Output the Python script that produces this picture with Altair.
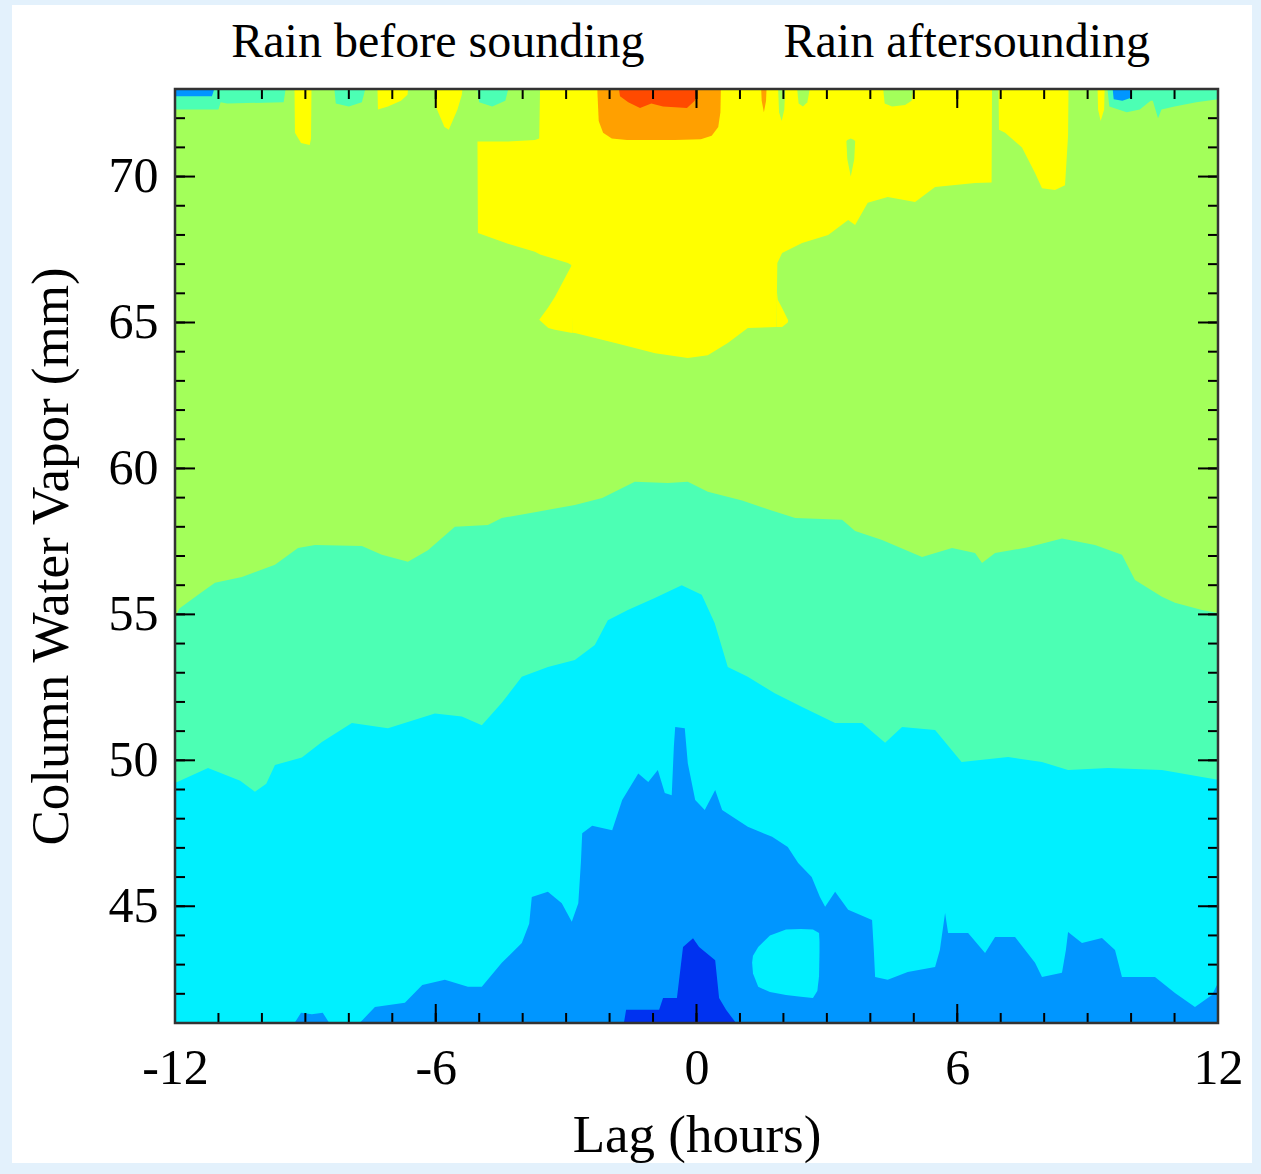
import altair as alt
import pandas as pd

# ---------------- colours of the contour levels ----------------
C_DKBLUE = "#0032f0"
C_BLUE = "#0096ff"
C_CYAN = "#00f0ff"
C_TEAL = "#4cffb4"
C_GREEN = "#a3ff5a"
C_YELLOW = "#ffff00"
C_ORANGE = "#ffa000"
C_RED = "#ff4a00"

# ---------------- axis ticks ----------------
X_LABELS = [-12, -6, 0, 6, 12]
Y_LABELS = [45, 50, 55, 60, 65, 70]
X_MINOR = list(range(-12, 13))
Y_MINOR = list(range(41, 74))

# ---------------- contour boundaries (lag h in hours, CWV in mm) ----------------
# whole field (green level)
GREEN_H = [-12, 12]
GREEN_LO = [41, 41]
GREEN_HI = [73, 73]

# teal level: from bottom up to green/teal boundary
TEAL_H = [-12, -11.9, -11.38, -11.08, -10.46, -9.7, -9.17, -8.78, -7.7, -7.24, -6.64, -6.18,
          -5.56, -4.8, -4.48, -3.72, -2.8, -2.17, -1.42, -0.66, -0.2, 0.26, 1.05, 1.64, 2.27,
          3.35, 3.65, 4.27, 5.19, 5.88, 6.41, 6.57, 6.87, 7.63, 8.41, 9.17, 9.79, 10.09, 10.71,
          11.01, 11.63, 12]
TEAL_TOP = [54.9, 55.2, 55.77, 56.08, 56.28, 56.7, 57.27, 57.38, 57.34, 57.04, 56.8, 57.2,
            58.0, 58.06, 58.3, 58.5, 58.75, 58.99, 59.54, 59.5, 59.54, 59.2, 58.9, 58.6, 58.3,
            58.24, 57.86, 57.55, 56.97, 57.27, 57.1, 56.76, 57.1, 57.3, 57.6, 57.38, 57.04, 56.18,
            55.6, 55.4, 55.15, 55.05]

# cyan level
CYAN_H = [-12, -11.24, -10.5, -10.16, -9.9, -9.7, -9.08, -8.62, -7.93, -7.1, -6.02, -5.4,
          -4.94, -4.48, -4.02, -3.42, -2.8, -2.34, -2.04, -1.58, -0.96, -0.34, 0.12, 0.42, 0.72,
          1.18, 1.8, 2.43, 3.19, 3.81, 4.34, 4.73, 5.49, 6.1, 7.17, 7.95, 8.55, 9.47, 10.71,
          11.63, 12]
CYAN_TOP = [49.22, 49.74, 49.3, 48.92, 49.2, 49.84, 50.1, 50.63, 51.28, 51.1, 51.6, 51.5,
            51.2, 51.97, 52.86, 53.2, 53.44, 53.95, 54.8, 55.15, 55.56, 56.0, 55.67, 54.7, 53.2,
            52.86, 52.3, 51.83, 51.28, 51.28, 50.6, 51.14, 51.04, 49.94, 50.11, 49.94, 49.67,
            49.74, 49.67, 49.43, 49.33]

# blue level
BLUE_H = [-12, -9.25, -9.1, -8.85, -8.6, -8.45, -7.75, -7.4, -6.71, -6.31, -5.79, -5.26, -4.94,
          -4.48, -4.02, -3.85, -3.79, -3.42, -3.1, -2.87, -2.72, -2.66, -2.63, -2.4, -1.94, -1.71,
          -1.34, -1.11, -0.89, -0.73, -0.57, -0.52, -0.49, -0.27, -0.2, -0.03, 0.19, 0.43, 0.59,
          1.18, 1.74, 2.1, 2.34, 2.65, 2.84, 2.96, 3.19, 3.49, 4.04, 4.08, 4.11, 4.4, 4.86, 5.49,
          5.6, 5.72, 5.79, 6.25, 6.64, 6.87, 7.33, 7.79, 7.95, 8.41, 8.5, 8.55, 8.87, 9.33, 9.63,
          9.79, 10.55, 11.01, 11.47, 11.86, 12]
BLUE_TOP = [41, 41, 41.35, 41.3, 41.35, 41, 41, 41.55, 41.69, 42.3, 42.48, 42.24, 42.24,
            43.06, 43.74, 44.4, 45.32, 45.5, 45.1, 44.47, 45.1, 46.5, 47.5, 47.76, 47.6, 48.64,
            49.55, 49.26, 49.67, 48.88, 48.8, 50.5, 51.14, 51.1, 49.9, 48.64, 48.3, 48.98, 48.3,
            47.72, 47.38, 47.03, 46.48, 46.0, 45.32, 44.98, 45.5, 44.88, 44.53, 43.5, 42.58,
            42.48, 42.75, 42.92, 43.5, 44.77, 44.08, 44.08, 43.4, 43.95, 43.95, 43.06, 42.58,
            42.72, 43.5, 44.12, 43.74, 43.91, 43.5, 42.58, 42.58, 42.03, 41.55, 41.96, 42.37]

# cyan island inside the blue
ISLAND_H = [1.28, 1.3, 1.42, 1.69, 2.06, 2.4, 2.68, 2.78, 2.82, 2.83]
ISLAND_LO = [43.06, 42.7, 42.24, 42.06, 41.96, 41.9, 41.86, 42.1, 42.6, 43.4]
ISLAND_HI = [43.06, 43.3, 43.6, 44.0, 44.2, 44.22, 44.2, 44.12, 44.08, 43.8]

# dark blue level
DKBLUE_H = [-1.67, -1.62, -0.86, -0.77, -0.45, -0.31, -0.08, 0.06, 0.43, 0.52, 0.68, 0.91, 0.93]
DKBLUE_TOP = [41, 41.45, 41.45, 41.86, 41.86, 43.6, 43.9, 43.6, 43.15, 41.86, 41.45, 41.0, 41]

# yellow level: main body
Y1_H = [-5.04, -5.03, -4.34, -3.72, -3.62, -3.6, -2.96, -2.88, -2.86, -2.8, -1.87, -0.95, -0.2,
        0.26, 0.72, 1.18, 1.84, 1.86, 1.97, 2.43, 3.03, 3.49, 3.65, 3.94, 4.4, 5.03, 5.49, 6.41,
        6.79, 6.8]
Y1_LO = [71.2, 68.07, 67.7, 67.42, 67.35, 67.33, 67.04, 66.97, 64.65, 64.64, 64.3, 63.95, 63.78,
         63.88, 64.3, 64.81, 64.85, 67.04, 67.38, 67.72, 68.0, 68.51, 68.34, 69.1, 69.3, 69.13,
         69.64, 69.78, 69.8, 73]
Y1_HI = [71.2, 71.2, 71.2, 71.25, 71.3, 73, 73, 73, 73, 73, 73, 73, 73,
         73, 73, 73, 73, 73, 73, 73, 73, 73, 73, 73, 73, 73, 73, 73, 73, 73]
# yellow neck, left and right lobes
Y2_H = [-3.62, -3.41, -3.26, -2.86]
Y2_LO = [65.09, 64.81, 64.75, 64.64]
Y2_HI = [65.09, 65.52, 65.87, 67.0]
Y3_H = [1.84, 1.87, 1.97, 2.1, 2.11]
Y3_LO = [64.85, 64.85, 64.85, 65.0, 65.09]
Y3_HI = [66.2, 65.78, 65.5, 65.1, 65.09]

# thin features hanging from the top edge (lower edge, upper edge = 73)
YS1_H = [-9.25, -9.24, -9.1, -8.9, -8.87, -8.86]
YS1_LO = [72.95, 71.5, 71.15, 71.08, 71.3, 72.95]
YS2_H = [-7.34, -7.33, -7.1, -6.8, -6.65, -6.64]
YS2_LO = [72.95, 72.3, 72.4, 72.6, 72.8, 72.95]
YS3_H = [-6.02, -6.0, -5.8, -5.7, -5.5, -5.4, -5.39]
YS3_LO = [72.95, 72.4, 71.7, 71.6, 72.3, 72.8, 72.95]
YR1_H = [6.95, 6.96, 7.1, 7.49, 7.79, 7.95, 8.25, 8.48, 8.55, 8.56]
YR1_LO = [72.95, 71.6, 71.5, 71.0, 70.12, 69.6, 69.54, 69.7, 71.4, 72.95]
YR2_H = [9.23, 9.24, 9.3, 9.38, 9.39]
YR2_LO = [72.95, 72.3, 71.9, 72.3, 72.95]

TC1_H = [-12, -11.0, -10.95, -10.8, -9.5, -9.46]
TC1_LO = [72.3, 72.3, 72.55, 72.5, 72.55, 72.95]
TC2_H = [-8.33, -8.3, -8.0, -7.7, -7.63]
TC2_LO = [72.95, 72.5, 72.4, 72.55, 72.95]
TC3_H = [-5.04, -5.0, -4.7, -4.4, -4.34]
TC3_LO = [72.95, 72.55, 72.4, 72.6, 72.95]
TC4_H = [9.46, 9.5, 9.9, 10.2, 10.45, 10.5, 10.62, 10.7, 11.0, 11.5, 12]
TC4_LO = [72.95, 72.4, 72.2, 72.3, 72.6, 72.6, 72.0, 72.3, 72.4, 72.55, 72.65]

BC1_H = [-12, -11.15, -11.1]
BC1_LO = [72.75, 72.75, 72.98]
BC2_H = [9.58, 9.6, 9.8, 10.0, 10.02]
BC2_LO = [72.95, 72.65, 72.6, 72.7, 72.95]

G1_H = [1.88, 1.9, 1.96, 2.02, 2.04]
G1_LO = [72.95, 72.2, 71.9, 72.3, 72.95]
G2_H = [2.32, 2.35, 2.45, 2.55, 2.6]
G2_LO = [72.95, 72.5, 72.4, 72.55, 72.95]
G4_H = [4.3, 4.33, 4.5, 4.8, 4.95, 4.98]
G4_LO = [72.95, 72.5, 72.4, 72.45, 72.6, 72.95]
# green sliver inside the yellow
G3_H = [3.45, 3.47, 3.55, 3.63, 3.65]
G3_LO = [71.2, 70.6, 70.0, 70.6, 71.2]
G3_HI = [71.2, 71.25, 71.3, 71.25, 71.2]

ORANGE_H = [-2.28, -2.25, -2.15, -1.95, -1.6, -0.5, 0.1, 0.35, 0.5, 0.55, 0.56]
ORANGE_LO = [72.9, 71.9, 71.5, 71.3, 71.25, 71.25, 71.28, 71.4, 71.7, 72.2, 72.95]
OS_H = [1.49, 1.5, 1.55, 1.6, 1.61]
OS_LO = [72.95, 72.6, 72.2, 72.6, 72.95]

RED_H = [-1.78, -1.76, -1.57, -1.3, -1.04, -0.77, -0.22, -0.04, 0.0]
RED_LO = [72.95, 72.75, 72.55, 72.35, 72.5, 72.4, 72.35, 72.6, 72.95]

TITLES = ["Rain before sounding", "Rain aftersounding"]
TITLE_H = [-5.95, 6.22]

# ---------------- chart ----------------
FONT = "Liberation Serif"
W, H = 1043, 934
XS = alt.Scale(domain=[-12, 12], nice=False, zero=False)
YS = alt.Scale(domain=[41, 73], nice=False, zero=False)
XAXIS = alt.Axis(values=X_LABELS, title="Lag (hours)", labelExpr="'' + datum.value",
                 labelFont=FONT, labelFontSize=50, labelColor="black", labelPadding=20,
                 labelFlush=False, ticks=False, tickSize=0, domain=False, grid=False,
                 titleFont=FONT, titleFontSize=53, titleFontWeight="normal",
                 titleColor="black", titlePadding=16, zindex=5)
YAXIS = alt.Axis(values=Y_LABELS, title="Column Water Vapor (mm)", labelExpr="'' + datum.value",
                 labelFont=FONT, labelFontSize=50, labelColor="black", labelPadding=17,
                 ticks=False, tickSize=0, domain=False, grid=False,
                 titleFont=FONT, titleFontSize=53, titleFontWeight="normal",
                 titleColor="black", titlePadding=30, zindex=5)


def X(field="h"):
    return alt.X(f"{field}:Q", scale=XS, axis=XAXIS)


def Y(field):
    return alt.Y(f"{field}:Q", scale=YS, axis=YAXIS)


def band(h, lo, hi, color):
    df = pd.DataFrame({"h": h, "lo": lo, "hi": hi})
    return alt.Chart(df).mark_area(color=color, interpolate="linear", opacity=1).encode(
        x=X(), y=Y("lo"), y2="hi:Q")


def from_bottom(h, top, color):
    return band(h, [41] * len(h), top, color)


def from_top(h, lo, color):
    return band(h, lo, [73] * len(h), color)


frame = alt.Chart(pd.DataFrame({"a": [0]})).mark_rect(color="white").encode(
    x=alt.value(-163), x2=alt.value(1077), y=alt.value(-84), y2=alt.value(1074))

layers = [
    frame,
    band(GREEN_H, GREEN_LO, GREEN_HI, C_GREEN),
    from_bottom(TEAL_H, TEAL_TOP, C_TEAL),
    from_bottom(CYAN_H, CYAN_TOP, C_CYAN),
    from_bottom(BLUE_H, BLUE_TOP, C_BLUE),
    band(ISLAND_H, ISLAND_LO, ISLAND_HI, C_CYAN),
    from_bottom(DKBLUE_H, DKBLUE_TOP, C_DKBLUE),
    band(Y1_H, Y1_LO, Y1_HI, C_YELLOW),
    band(Y2_H, Y2_LO, Y2_HI, C_YELLOW),
    band(Y3_H, Y3_LO, Y3_HI, C_YELLOW),
    from_top(YS1_H, YS1_LO, C_YELLOW),
    from_top(YS2_H, YS2_LO, C_YELLOW),
    from_top(YS3_H, YS3_LO, C_YELLOW),
    from_top(YR1_H, YR1_LO, C_YELLOW),
    from_top(YR2_H, YR2_LO, C_YELLOW),
    from_top(TC1_H, TC1_LO, C_TEAL),
    from_top(TC2_H, TC2_LO, C_TEAL),
    from_top(TC3_H, TC3_LO, C_TEAL),
    from_top(TC4_H, TC4_LO, C_TEAL),
    from_top(BC1_H, BC1_LO, C_BLUE),
    from_top(BC2_H, BC2_LO, C_BLUE),
    from_top(G1_H, G1_LO, C_GREEN),
    from_top(G2_H, G2_LO, C_GREEN),
    from_top(G4_H, G4_LO, C_GREEN),
    band(G3_H, G3_LO, G3_HI, C_GREEN),
    from_top(ORANGE_H, ORANGE_LO, C_ORANGE),
    from_top(OS_H, OS_LO, C_ORANGE),
    from_top(RED_H, RED_LO, C_RED),
]

# inward ticks on all four sides
def xticks(vals, y0, y1):
    return alt.Chart(pd.DataFrame({"h": vals})).mark_rule(color="black", strokeWidth=2).encode(
        x=X(), y=alt.value(y0), y2=alt.value(y1))


def yticks(vals, x0, x1):
    return alt.Chart(pd.DataFrame({"v": vals})).mark_rule(color="black", strokeWidth=2).encode(
        y=Y("v"), x=alt.value(x0), x2=alt.value(x1))


layers += [
    xticks(X_MINOR, H, H - 10), xticks(X_LABELS, H, H - 19),
    xticks(X_MINOR, 0, 10), xticks(X_LABELS, 0, 19),
    yticks(Y_MINOR, 0, 10), yticks(Y_LABELS, 0, 20),
    yticks(Y_MINOR, W, W - 10), yticks(Y_LABELS, W, W - 20),
]

border = alt.Chart(pd.DataFrame({"h": [-12], "h2": [12], "lo": [41], "hi": [73]})).mark_rect(
    filled=False, stroke="#333333", strokeWidth=2.5).encode(x=X(), x2="h2:Q", y=Y("lo"), y2="hi:Q")

titles = alt.Chart(pd.DataFrame({"h": TITLE_H, "t": TITLES})).mark_text(
    font=FONT, fontSize=48, baseline="alphabetic", align="center", color="black").encode(
    x=X(), y=alt.value(-32), text="t:N")

layers += [border, titles]

chart = alt.layer(*layers).properties(
    width=W, height=H,
    padding={"left": 175, "top": 89, "right": 43, "bottom": 151},
    autosize=alt.AutoSizeParams(type="none"),
).configure(background="#e3f1fc").configure_view(stroke=None)

chart.save("out.html", embed_options={"renderer": "svg", "actions": False})
